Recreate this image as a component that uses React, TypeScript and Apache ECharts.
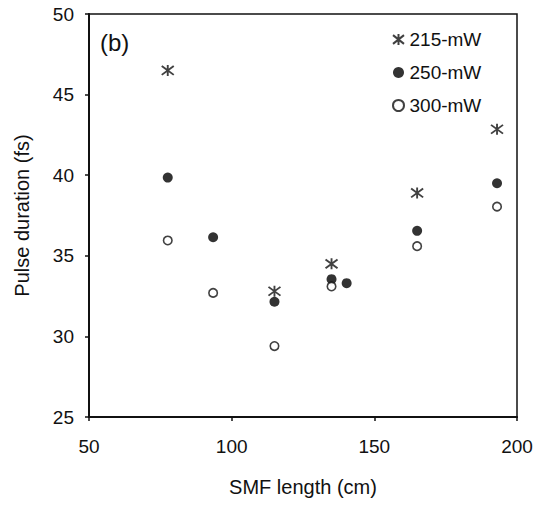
import React, { useEffect, useRef } from "react";
import * as echarts from "echarts";

const seriesNames = ["215-mW", "250-mW", "300-mW"];
const smf215: number[][] = [[77.6, 46.5], [115, 32.8], [135, 34.5], [165, 38.9], [193, 42.85]];
const smf250: number[][] = [[77.6, 39.85], [93.5, 36.15], [115, 32.15], [135, 33.55], [140.3, 33.3], [165, 36.55], [193, 39.5]];
const smf300: number[][] = [[77.6, 35.95], [93.5, 32.7], [115, 29.4], [135, 33.1], [165, 35.6], [193, 38.05]];
const xTicks = [50, 100, 150, 200];
const yTicks = [25, 30, 35, 40, 45, 50];

const FONT = "'Liberation Sans', Arial, sans-serif";
const INK = "#111";
const ASTERISK = "path://M-1,-0.8L1,0.8M-1,0.8L1,-0.8M0,-1L0,1";

export default function App() {
  const ref = useRef<HTMLDivElement>(null);
  useEffect(() => {
    if (!ref.current) return;
    const chart = echarts.init(ref.current, null, { renderer: "svg" });
    const axisCommon = {
      axisLine: { show: true, onZero: false, lineStyle: { color: INK, width: 2 } },
      axisTick: { show: true, inside: false, length: 4, lineStyle: { color: INK, width: 1.5 } },
      splitLine: { show: false },
      nameTextStyle: { fontFamily: FONT, fontSize: 20, color: INK },
    };
    chart.setOption({
      animation: false,
      backgroundColor: "#fff",
      grid: { left: 89, top: 14, right: 22, bottom: 88, show: true, borderColor: INK, borderWidth: 1.5 },
      xAxis: {
        type: "value",
        min: xTicks[0],
        max: xTicks[xTicks.length - 1],
        interval: 50,
        name: "SMF length (cm)",
        nameLocation: "middle",
        nameGap: 60,
        axisLabel: { fontFamily: FONT, fontSize: 19, color: INK, margin: 20 },
        ...axisCommon,
      },
      yAxis: {
        type: "value",
        min: yTicks[0],
        max: yTicks[yTicks.length - 1],
        interval: 5,
        name: "Pulse duration (fs)",
        nameLocation: "middle",
        nameGap: 57,
        axisLabel: { fontFamily: FONT, fontSize: 19, color: INK, margin: 15 },
        ...axisCommon,
      },
      legend: {
        orient: "vertical",
        left: 387,
        top: 25,
        itemWidth: 12,
        itemHeight: 11,
        itemGap: 14,
        textStyle: { fontFamily: FONT, fontSize: 19, color: INK },
        data: seriesNames,
      },
      graphic: [
        {
          type: "text",
          left: 100,
          top: 30,
          style: { text: "(b)", fontFamily: FONT, fontSize: 24, fill: INK },
        },
      ],
      series: [
        {
          name: seriesNames[0],
          type: "scatter",
          data: smf215,
          symbol: ASTERISK,
          symbolSize: [12, 11],
          itemStyle: { color: INK, borderColor: INK, borderWidth: 1.8 },
        },
        {
          name: seriesNames[1],
          type: "scatter",
          data: smf250,
          symbol: "circle",
          symbolSize: 10,
          itemStyle: { color: "#000", borderColor: "#000", borderWidth: 0 },
        },
        {
          name: seriesNames[2],
          type: "scatter",
          data: smf300,
          symbol: "circle",
          symbolSize: 8.5,
          itemStyle: { color: "#fff", borderColor: INK, borderWidth: 1.6 },
        },
      ],
    });
    return () => chart.dispose();
  }, []);
  return <div ref={ref} style={{ width: 539, height: 505, position: "absolute", left: 0, top: 0 }} />;
}
